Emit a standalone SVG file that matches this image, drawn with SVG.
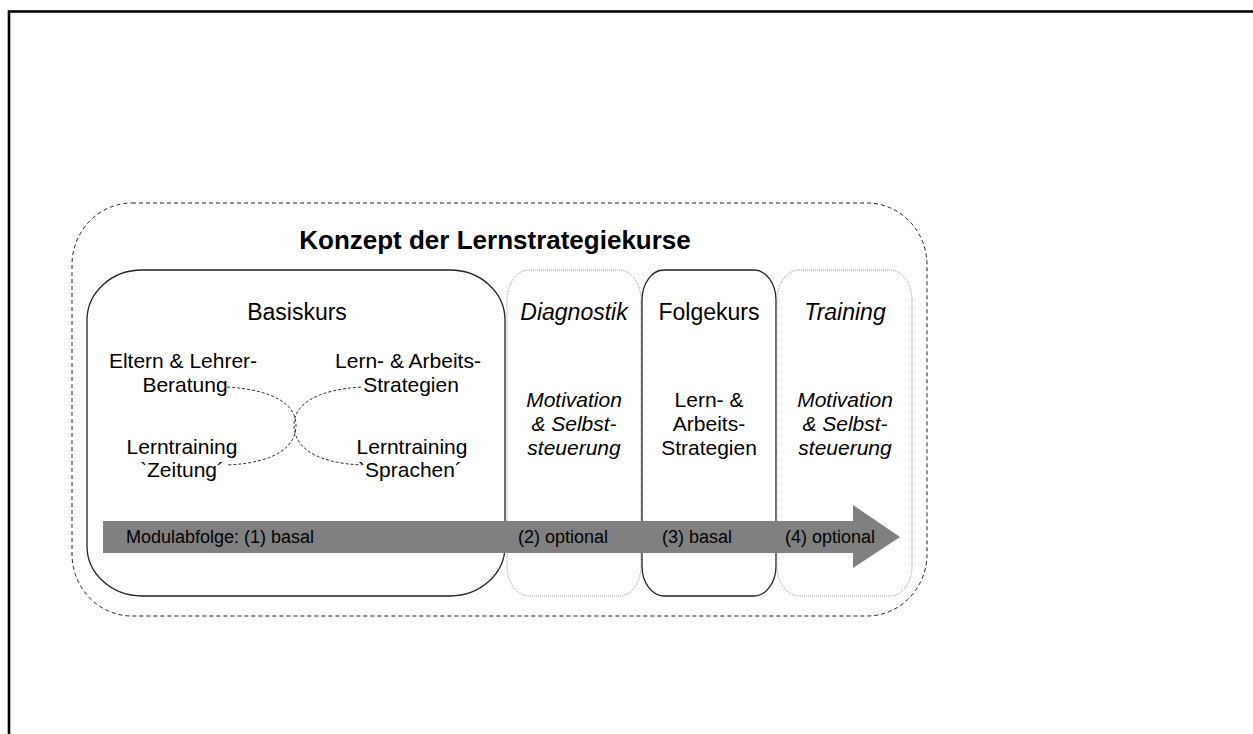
<svg xmlns="http://www.w3.org/2000/svg" width="1253" height="734" viewBox="0 0 1253 734">
<style>
text{font-family:"Liberation Sans",Arial,sans-serif;fill:#000}
.hd{font-size:23px}
.bd{font-size:21px}
.it{font-style:italic}
.ar{font-size:18px}
.dot{fill:#fff;stroke:#999;stroke-width:1;stroke-dasharray:1 1}
.sol{fill:#fff;stroke:#222;stroke-width:1.3}
.conn{fill:none;stroke:#333;stroke-width:1;stroke-dasharray:3 2}
</style>
<rect x="0" y="0" width="1253" height="734" fill="#fff"/>
<rect id="frame" x="9" y="11.5" width="1300" height="800" fill="none" stroke="#000" stroke-width="2.6"/>
<g id="outer">
<rect x="72" y="203" width="855" height="413" rx="60" ry="62" fill="none" stroke="#222" stroke-width="1" stroke-dasharray="4 3"/>
<text x="495" y="249" text-anchor="middle" font-weight="bold" font-size="26">Konzept der Lernstrategiekurse</text>
</g>
<g id="basiskurs">
<rect class="sol" x="87" y="270" width="418" height="326" rx="55" ry="50"/>
<text class="hd" x="297" y="320" text-anchor="middle">Basiskurs</text>
</g>
<g id="eltern"><text class="bd" x="183" y="368" text-anchor="middle">Eltern &amp; Lehrer-</text><text class="bd" x="185" y="392" text-anchor="middle">Beratung</text></g>
<g id="lernarbeit"><text class="bd" x="408" y="368" text-anchor="middle">Lern- &amp; Arbeits-</text><text class="bd" x="411" y="392" text-anchor="middle">Strategien</text></g>
<g id="zeitung"><text class="bd" x="182" y="454" text-anchor="middle">Lerntraining</text><text class="bd" x="182" y="477" text-anchor="middle">`Zeitung´</text></g>
<g id="sprachen"><text class="bd" x="412" y="454" text-anchor="middle">Lerntraining</text><text class="bd" x="410" y="477" text-anchor="middle">`Sprachen´</text></g>
<g id="connectors">
<path class="conn" d="M227,387 C275,390 296,405 296,425 C296,447 275,463 227,465"/>
<path class="conn" d="M361,387 C315,390 294,405 294,425 C294,447 315,463 362,465"/>
</g>
<g id="diagnostik">
<rect class="dot" x="507" y="270" width="134" height="326" rx="22" ry="30"/>
<text class="hd it" x="574" y="320" text-anchor="middle">Diagnostik</text>
<text class="bd it" x="574" y="407" text-anchor="middle">Motivation</text>
<text class="bd it" x="574" y="431" text-anchor="middle">&amp; Selbst-</text>
<text class="bd it" x="574" y="455" text-anchor="middle">steuerung</text>
</g>
<g id="folgekurs">
<rect class="sol" x="642" y="270" width="134" height="326" rx="22" ry="30"/>
<text class="hd" x="709" y="320" text-anchor="middle">Folgekurs</text>
<text class="bd" x="709" y="407" text-anchor="middle">Lern- &amp;</text>
<text class="bd" x="709" y="431" text-anchor="middle">Arbeits-</text>
<text class="bd" x="709" y="455" text-anchor="middle">Strategien</text>
</g>
<g id="training">
<rect class="dot" x="777" y="270" width="135" height="326" rx="22" ry="30"/>
<text class="hd it" x="845" y="320" text-anchor="middle">Training</text>
<text class="bd it" x="845" y="407" text-anchor="middle">Motivation</text>
<text class="bd it" x="845" y="431" text-anchor="middle">&amp; Selbst-</text>
<text class="bd it" x="845" y="455" text-anchor="middle">steuerung</text>
</g>
<g id="arrow">
<polygon points="103,521 853,521 853,505 900,537 853,568 853,553 103,553" fill="#808080"/>
<text class="ar" x="126" y="543">Modulabfolge: (1) basal</text>
<text class="ar" x="518" y="543">(2) optional</text>
<text class="ar" x="662" y="543">(3) basal</text>
<text class="ar" x="785" y="543">(4) optional</text>
</g>
</svg>
